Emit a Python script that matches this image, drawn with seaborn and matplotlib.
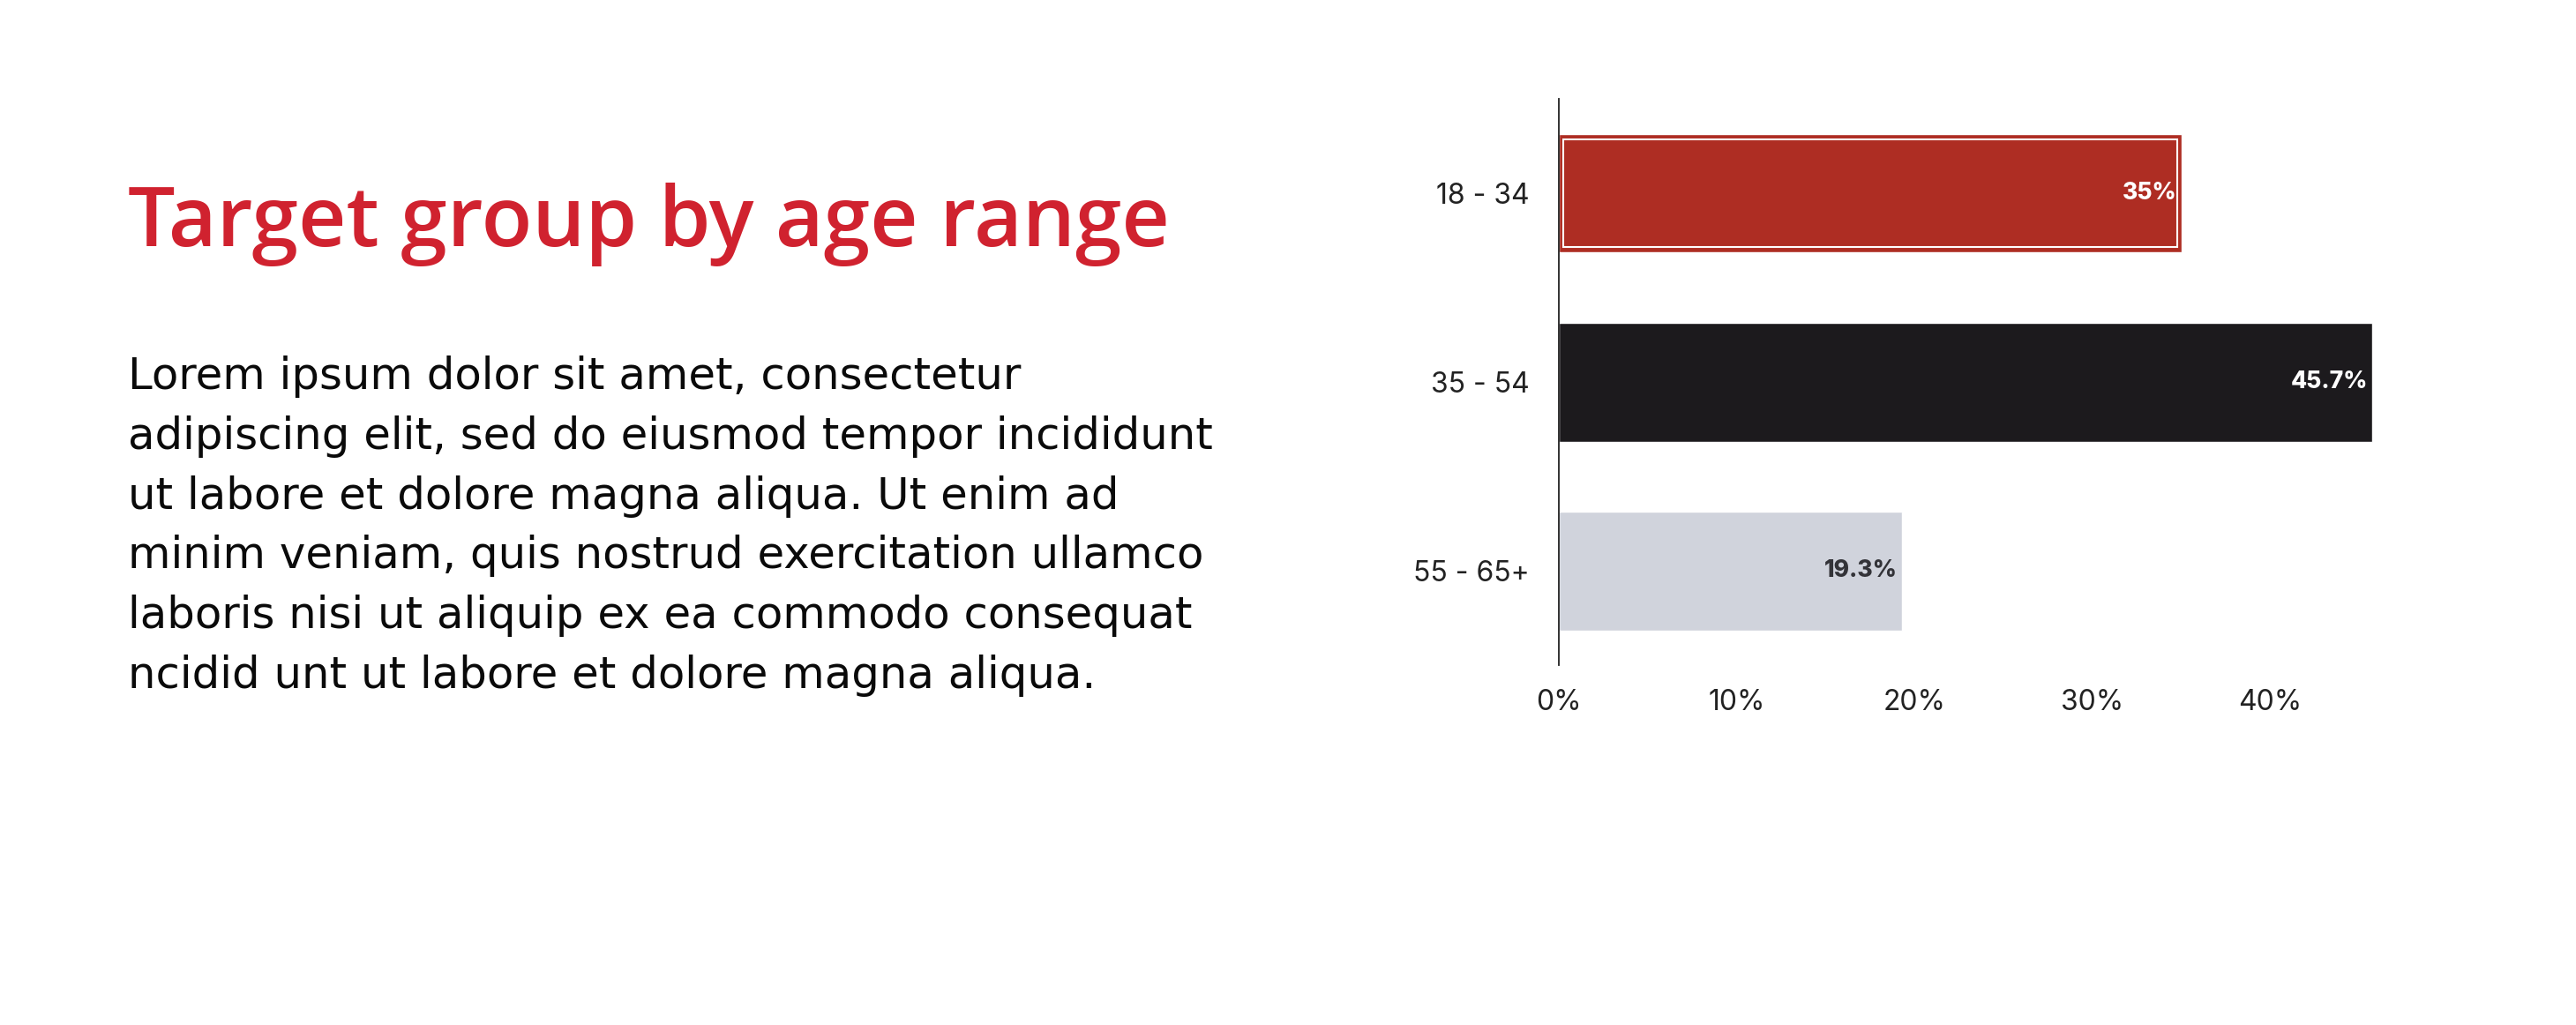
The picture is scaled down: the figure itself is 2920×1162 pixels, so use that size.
import matplotlib
matplotlib.use("Agg")
import matplotlib.pyplot as plt
from matplotlib.patches import Rectangle
from matplotlib.ticker import FuncFormatter
import seaborn as sns
import pandas as pd

# data
age_ranges = ["18 - 34", "35 - 54", "55 - 65+"]
shares = [35.0, 45.7, 19.3]
value_labels = ["35%", "45.7%", "19.3%"]
bar_colors = ["#AE2D23", "#1C1A1D", "#D0D3DC"]
label_colors = ["white", "white", "#333338"]
x_ticks = [0, 10, 20, 30, 40]

title = "Target group by age range"
body_lines = [
    "Lorem ipsum dolor sit amet, consectetur",
    "adipiscing elit, sed do eiusmod tempor incididunt",
    "ut labore et dolore magna aliqua. Ut enim ad",
    "minim veniam, quis nostrud exercitation ullamco",
    "laboris nisi ut aliquip ex ea commodo consequat",
    "ncidid unt ut labore et dolore magna aliqua.",
]

sns.set_style("white")
plt.rcParams["font.family"] = ["Inter", "DejaVu Sans"]
title_font = ["Open Sans", "DejaVu Sans"]
body_font = ["DejaVu Sans"]

df = pd.DataFrame({"age": age_ranges, "share": shares})

fig = plt.figure(figsize=(29.2, 11.62), dpi=100)
fig.patch.set_facecolor("white")
ax = fig.add_axes([0.605, 0.351, 0.3165, 0.5526])

sns.barplot(data=df, x="share", y="age", hue="age", palette=bar_colors,
            legend=False, width=0.63, saturation=1, ax=ax, orient="h")

ax.set_xlim(0, 45.8)
ax.set_ylim(2.5, -0.5)
ax.set_xticks(x_ticks)
ax.xaxis.set_major_formatter(FuncFormatter(lambda v, p: f"{v:.0f}%"))
ax.tick_params(axis="both", length=0, labelsize=23, colors="#222222")
ax.tick_params(axis="x", pad=19)
ax.tick_params(axis="y", pad=24)
ax.set_xlabel("")
ax.set_ylabel("")
for s in ["top", "right", "bottom"]:
    ax.spines[s].set_visible(False)
ax.spines["left"].set_color("#222222")
ax.spines["left"].set_linewidth(1.3)
ax.spines["left"].set_zorder(5)

# inner white outline on the first bar
p = ax.patches[0]
dx, dy = 0.25, 0.028
ax.add_patch(Rectangle((p.get_x() + dx, p.get_y() + dy), p.get_width() - 2 * dx,
                       p.get_height() - 2 * dy, fill=False, edgecolor="white",
                       linewidth=1.5, zorder=4))

for i, (v, lab) in enumerate(zip(shares, value_labels)):
    ax.text(v - 0.25, i, lab, ha="right", va="center", fontsize=19,
            fontweight="heavy", color=label_colors[i], zorder=6)

fig.text(0.0497, 0.76, title, fontsize=68, color="#D0222F", family=title_font,
         fontweight="semibold", va="baseline", ha="left")

for k, line in enumerate(body_lines):
    fig.text(0.0497, 1 - (441 + 67.8 * k) / 1162, line, fontsize=35.8,
             family=body_font, color="#0A0A0A", va="baseline", ha="left")

fig.savefig("out.png", dpi=100, facecolor="white")
